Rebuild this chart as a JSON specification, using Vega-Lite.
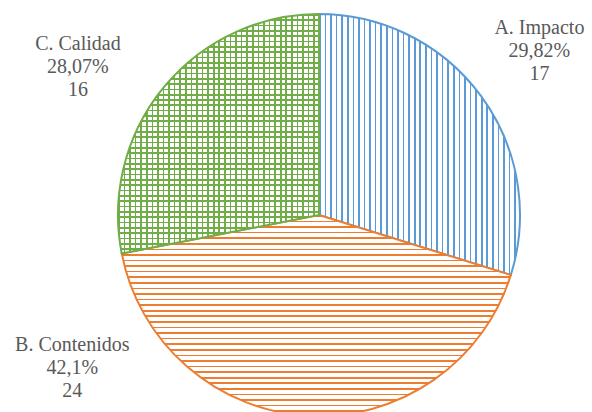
{
"$schema": "https://vega.github.io/schema/vega-lite/v6.json",
"width": 546, "height": 394,
"autosize": {"type": "none"},
"padding": {"left": 46, "top": 18, "right": 0, "bottom": 0},
"background": "white",
"config": {"view": {"stroke": null}},
"data": {"values": [
 {"k": "A. Impacto", "n": 17, "pct": "29,82%"},
 {"k": "B. Contenidos", "n": 24, "pct": "42,1%"},
 {"k": "C. Calidad", "n": 16, "pct": "28,07%"}
]},
"transform": [
 {"stack": "n", "groupby": [], "sort": [{"field": "k", "order": "ascending"}], "as": ["s0", "s1"]},
 {"calculate": "(datum.s0 + datum.s1) / 2", "as": "mid"},
 {"calculate": "[datum.k, datum.pct, '' + datum.n]", "as": "label"}
],
"layer": [
 {"transform": [{"filter": "datum.k === 'A. Impacto'"}],
  "mark": {"type": "arc", "radius": 201, "stroke": "#5b9bd5", "strokeWidth": 2,
   "fill": {"gradient": "linear", "x1": 0, "y1": 0, "x2": 1, "y2": 0, "stops": [
{"offset":0,"color":"#5b9bd5"},{"offset":0.008,"color":"#5b9bd5"},{"offset":0.008,"color":"#fff"},{"offset":0.0278,"color":"#fff"},
{"offset":0.0278,"color":"#5b9bd5"},{"offset":0.0358,"color":"#5b9bd5"},{"offset":0.0358,"color":"#fff"},{"offset":0.0556,"color":"#fff"},
{"offset":0.0556,"color":"#5b9bd5"},{"offset":0.0636,"color":"#5b9bd5"},{"offset":0.0636,"color":"#fff"},{"offset":0.0833,"color":"#fff"},
{"offset":0.0833,"color":"#5b9bd5"},{"offset":0.0913,"color":"#5b9bd5"},{"offset":0.0913,"color":"#fff"},{"offset":0.1111,"color":"#fff"},
{"offset":0.1111,"color":"#5b9bd5"},{"offset":0.1191,"color":"#5b9bd5"},{"offset":0.1191,"color":"#fff"},{"offset":0.1389,"color":"#fff"},
{"offset":0.1389,"color":"#5b9bd5"},{"offset":0.1469,"color":"#5b9bd5"},{"offset":0.1469,"color":"#fff"},{"offset":0.1667,"color":"#fff"},
{"offset":0.1667,"color":"#5b9bd5"},{"offset":0.1747,"color":"#5b9bd5"},{"offset":0.1747,"color":"#fff"},{"offset":0.1944,"color":"#fff"},
{"offset":0.1944,"color":"#5b9bd5"},{"offset":0.2024,"color":"#5b9bd5"},{"offset":0.2024,"color":"#fff"},{"offset":0.2222,"color":"#fff"},
{"offset":0.2222,"color":"#5b9bd5"},{"offset":0.2302,"color":"#5b9bd5"},{"offset":0.2302,"color":"#fff"},{"offset":0.25,"color":"#fff"},
{"offset":0.25,"color":"#5b9bd5"},{"offset":0.258,"color":"#5b9bd5"},{"offset":0.258,"color":"#fff"},{"offset":0.2778,"color":"#fff"},
{"offset":0.2778,"color":"#5b9bd5"},{"offset":0.2858,"color":"#5b9bd5"},{"offset":0.2858,"color":"#fff"},{"offset":0.3056,"color":"#fff"},
{"offset":0.3056,"color":"#5b9bd5"},{"offset":0.3136,"color":"#5b9bd5"},{"offset":0.3136,"color":"#fff"},{"offset":0.3333,"color":"#fff"},
{"offset":0.3333,"color":"#5b9bd5"},{"offset":0.3413,"color":"#5b9bd5"},{"offset":0.3413,"color":"#fff"},{"offset":0.3611,"color":"#fff"},
{"offset":0.3611,"color":"#5b9bd5"},{"offset":0.3691,"color":"#5b9bd5"},{"offset":0.3691,"color":"#fff"},{"offset":0.3889,"color":"#fff"},
{"offset":0.3889,"color":"#5b9bd5"},{"offset":0.3969,"color":"#5b9bd5"},{"offset":0.3969,"color":"#fff"},{"offset":0.4167,"color":"#fff"},
{"offset":0.4167,"color":"#5b9bd5"},{"offset":0.4247,"color":"#5b9bd5"},{"offset":0.4247,"color":"#fff"},{"offset":0.4444,"color":"#fff"},
{"offset":0.4444,"color":"#5b9bd5"},{"offset":0.4524,"color":"#5b9bd5"},{"offset":0.4524,"color":"#fff"},{"offset":0.4722,"color":"#fff"},
{"offset":0.4722,"color":"#5b9bd5"},{"offset":0.4802,"color":"#5b9bd5"},{"offset":0.4802,"color":"#fff"},{"offset":0.5,"color":"#fff"},
{"offset":0.5,"color":"#5b9bd5"},{"offset":0.508,"color":"#5b9bd5"},{"offset":0.508,"color":"#fff"},{"offset":0.5278,"color":"#fff"},
{"offset":0.5278,"color":"#5b9bd5"},{"offset":0.5358,"color":"#5b9bd5"},{"offset":0.5358,"color":"#fff"},{"offset":0.5556,"color":"#fff"},
{"offset":0.5556,"color":"#5b9bd5"},{"offset":0.5636,"color":"#5b9bd5"},{"offset":0.5636,"color":"#fff"},{"offset":0.5833,"color":"#fff"},
{"offset":0.5833,"color":"#5b9bd5"},{"offset":0.5913,"color":"#5b9bd5"},{"offset":0.5913,"color":"#fff"},{"offset":0.6111,"color":"#fff"},
{"offset":0.6111,"color":"#5b9bd5"},{"offset":0.6191,"color":"#5b9bd5"},{"offset":0.6191,"color":"#fff"},{"offset":0.6389,"color":"#fff"},
{"offset":0.6389,"color":"#5b9bd5"},{"offset":0.6469,"color":"#5b9bd5"},{"offset":0.6469,"color":"#fff"},{"offset":0.6667,"color":"#fff"},
{"offset":0.6667,"color":"#5b9bd5"},{"offset":0.6747,"color":"#5b9bd5"},{"offset":0.6747,"color":"#fff"},{"offset":0.6944,"color":"#fff"},
{"offset":0.6944,"color":"#5b9bd5"},{"offset":0.7024,"color":"#5b9bd5"},{"offset":0.7024,"color":"#fff"},{"offset":0.7222,"color":"#fff"},
{"offset":0.7222,"color":"#5b9bd5"},{"offset":0.7302,"color":"#5b9bd5"},{"offset":0.7302,"color":"#fff"},{"offset":0.75,"color":"#fff"},
{"offset":0.75,"color":"#5b9bd5"},{"offset":0.758,"color":"#5b9bd5"},{"offset":0.758,"color":"#fff"},{"offset":0.7778,"color":"#fff"},
{"offset":0.7778,"color":"#5b9bd5"},{"offset":0.7858,"color":"#5b9bd5"},{"offset":0.7858,"color":"#fff"},{"offset":0.8056,"color":"#fff"},
{"offset":0.8056,"color":"#5b9bd5"},{"offset":0.8136,"color":"#5b9bd5"},{"offset":0.8136,"color":"#fff"},{"offset":0.8333,"color":"#fff"},
{"offset":0.8333,"color":"#5b9bd5"},{"offset":0.8413,"color":"#5b9bd5"},{"offset":0.8413,"color":"#fff"},{"offset":0.8611,"color":"#fff"},
{"offset":0.8611,"color":"#5b9bd5"},{"offset":0.8691,"color":"#5b9bd5"},{"offset":0.8691,"color":"#fff"},{"offset":0.8889,"color":"#fff"},
{"offset":0.8889,"color":"#5b9bd5"},{"offset":0.8969,"color":"#5b9bd5"},{"offset":0.8969,"color":"#fff"},{"offset":0.9167,"color":"#fff"},
{"offset":0.9167,"color":"#5b9bd5"},{"offset":0.9247,"color":"#5b9bd5"},{"offset":0.9247,"color":"#fff"},{"offset":0.9444,"color":"#fff"},
{"offset":0.9444,"color":"#5b9bd5"},{"offset":0.9524,"color":"#5b9bd5"},{"offset":0.9524,"color":"#fff"},{"offset":0.9722,"color":"#fff"},
{"offset":0.9722,"color":"#5b9bd5"},{"offset":0.9802,"color":"#5b9bd5"},{"offset":0.9802,"color":"#fff"},{"offset":1,"color":"#fff"}
   ]}},
  "encoding": {"theta": {"field": "s0", "type": "quantitative", "stack": null, "scale": {"domain": [0, 57]}}, "theta2": {"field": "s1"}}},
 {"transform": [{"filter": "datum.k === 'B. Contenidos'"}],
  "mark": {"type": "arc", "radius": 201, "stroke": "#ed7d31", "strokeWidth": 2,
   "fill": {"gradient": "linear", "x1": 0, "y1": 0, "x2": 0, "y2": 1, "stops": [
{"offset":0,"color":"#ed7d31"},{"offset":0.008,"color":"#ed7d31"},{"offset":0.008,"color":"#fff"},{"offset":0.0278,"color":"#fff"},
{"offset":0.0278,"color":"#ed7d31"},{"offset":0.0358,"color":"#ed7d31"},{"offset":0.0358,"color":"#fff"},{"offset":0.0556,"color":"#fff"},
{"offset":0.0556,"color":"#ed7d31"},{"offset":0.0636,"color":"#ed7d31"},{"offset":0.0636,"color":"#fff"},{"offset":0.0833,"color":"#fff"},
{"offset":0.0833,"color":"#ed7d31"},{"offset":0.0913,"color":"#ed7d31"},{"offset":0.0913,"color":"#fff"},{"offset":0.1111,"color":"#fff"},
{"offset":0.1111,"color":"#ed7d31"},{"offset":0.1191,"color":"#ed7d31"},{"offset":0.1191,"color":"#fff"},{"offset":0.1389,"color":"#fff"},
{"offset":0.1389,"color":"#ed7d31"},{"offset":0.1469,"color":"#ed7d31"},{"offset":0.1469,"color":"#fff"},{"offset":0.1667,"color":"#fff"},
{"offset":0.1667,"color":"#ed7d31"},{"offset":0.1747,"color":"#ed7d31"},{"offset":0.1747,"color":"#fff"},{"offset":0.1944,"color":"#fff"},
{"offset":0.1944,"color":"#ed7d31"},{"offset":0.2024,"color":"#ed7d31"},{"offset":0.2024,"color":"#fff"},{"offset":0.2222,"color":"#fff"},
{"offset":0.2222,"color":"#ed7d31"},{"offset":0.2302,"color":"#ed7d31"},{"offset":0.2302,"color":"#fff"},{"offset":0.25,"color":"#fff"},
{"offset":0.25,"color":"#ed7d31"},{"offset":0.258,"color":"#ed7d31"},{"offset":0.258,"color":"#fff"},{"offset":0.2778,"color":"#fff"},
{"offset":0.2778,"color":"#ed7d31"},{"offset":0.2858,"color":"#ed7d31"},{"offset":0.2858,"color":"#fff"},{"offset":0.3056,"color":"#fff"},
{"offset":0.3056,"color":"#ed7d31"},{"offset":0.3136,"color":"#ed7d31"},{"offset":0.3136,"color":"#fff"},{"offset":0.3333,"color":"#fff"},
{"offset":0.3333,"color":"#ed7d31"},{"offset":0.3413,"color":"#ed7d31"},{"offset":0.3413,"color":"#fff"},{"offset":0.3611,"color":"#fff"},
{"offset":0.3611,"color":"#ed7d31"},{"offset":0.3691,"color":"#ed7d31"},{"offset":0.3691,"color":"#fff"},{"offset":0.3889,"color":"#fff"},
{"offset":0.3889,"color":"#ed7d31"},{"offset":0.3969,"color":"#ed7d31"},{"offset":0.3969,"color":"#fff"},{"offset":0.4167,"color":"#fff"},
{"offset":0.4167,"color":"#ed7d31"},{"offset":0.4247,"color":"#ed7d31"},{"offset":0.4247,"color":"#fff"},{"offset":0.4444,"color":"#fff"},
{"offset":0.4444,"color":"#ed7d31"},{"offset":0.4524,"color":"#ed7d31"},{"offset":0.4524,"color":"#fff"},{"offset":0.4722,"color":"#fff"},
{"offset":0.4722,"color":"#ed7d31"},{"offset":0.4802,"color":"#ed7d31"},{"offset":0.4802,"color":"#fff"},{"offset":0.5,"color":"#fff"},
{"offset":0.5,"color":"#ed7d31"},{"offset":0.508,"color":"#ed7d31"},{"offset":0.508,"color":"#fff"},{"offset":0.5278,"color":"#fff"},
{"offset":0.5278,"color":"#ed7d31"},{"offset":0.5358,"color":"#ed7d31"},{"offset":0.5358,"color":"#fff"},{"offset":0.5556,"color":"#fff"},
{"offset":0.5556,"color":"#ed7d31"},{"offset":0.5636,"color":"#ed7d31"},{"offset":0.5636,"color":"#fff"},{"offset":0.5833,"color":"#fff"},
{"offset":0.5833,"color":"#ed7d31"},{"offset":0.5913,"color":"#ed7d31"},{"offset":0.5913,"color":"#fff"},{"offset":0.6111,"color":"#fff"},
{"offset":0.6111,"color":"#ed7d31"},{"offset":0.6191,"color":"#ed7d31"},{"offset":0.6191,"color":"#fff"},{"offset":0.6389,"color":"#fff"},
{"offset":0.6389,"color":"#ed7d31"},{"offset":0.6469,"color":"#ed7d31"},{"offset":0.6469,"color":"#fff"},{"offset":0.6667,"color":"#fff"},
{"offset":0.6667,"color":"#ed7d31"},{"offset":0.6747,"color":"#ed7d31"},{"offset":0.6747,"color":"#fff"},{"offset":0.6944,"color":"#fff"},
{"offset":0.6944,"color":"#ed7d31"},{"offset":0.7024,"color":"#ed7d31"},{"offset":0.7024,"color":"#fff"},{"offset":0.7222,"color":"#fff"},
{"offset":0.7222,"color":"#ed7d31"},{"offset":0.7302,"color":"#ed7d31"},{"offset":0.7302,"color":"#fff"},{"offset":0.75,"color":"#fff"},
{"offset":0.75,"color":"#ed7d31"},{"offset":0.758,"color":"#ed7d31"},{"offset":0.758,"color":"#fff"},{"offset":0.7778,"color":"#fff"},
{"offset":0.7778,"color":"#ed7d31"},{"offset":0.7858,"color":"#ed7d31"},{"offset":0.7858,"color":"#fff"},{"offset":0.8056,"color":"#fff"},
{"offset":0.8056,"color":"#ed7d31"},{"offset":0.8136,"color":"#ed7d31"},{"offset":0.8136,"color":"#fff"},{"offset":0.8333,"color":"#fff"},
{"offset":0.8333,"color":"#ed7d31"},{"offset":0.8413,"color":"#ed7d31"},{"offset":0.8413,"color":"#fff"},{"offset":0.8611,"color":"#fff"},
{"offset":0.8611,"color":"#ed7d31"},{"offset":0.8691,"color":"#ed7d31"},{"offset":0.8691,"color":"#fff"},{"offset":0.8889,"color":"#fff"},
{"offset":0.8889,"color":"#ed7d31"},{"offset":0.8969,"color":"#ed7d31"},{"offset":0.8969,"color":"#fff"},{"offset":0.9167,"color":"#fff"},
{"offset":0.9167,"color":"#ed7d31"},{"offset":0.9247,"color":"#ed7d31"},{"offset":0.9247,"color":"#fff"},{"offset":0.9444,"color":"#fff"},
{"offset":0.9444,"color":"#ed7d31"},{"offset":0.9524,"color":"#ed7d31"},{"offset":0.9524,"color":"#fff"},{"offset":0.9722,"color":"#fff"},
{"offset":0.9722,"color":"#ed7d31"},{"offset":0.9802,"color":"#ed7d31"},{"offset":0.9802,"color":"#fff"},{"offset":1,"color":"#fff"}
   ]}},
  "encoding": {"theta": {"field": "s0", "type": "quantitative", "stack": null}, "theta2": {"field": "s1"}}},
 {"transform": [{"filter": "datum.k === 'C. Calidad'"}],
  "mark": {"type": "arc", "radius": 201,
   "fill": {"gradient": "linear", "x1": 0, "y1": 0, "x2": 1, "y2": 0, "stops": [
{"offset":0,"color":"#70ad47"},{"offset":0.008,"color":"#70ad47"},{"offset":0.008,"color":"#fff"},{"offset":0.0278,"color":"#fff"},
{"offset":0.0278,"color":"#70ad47"},{"offset":0.0358,"color":"#70ad47"},{"offset":0.0358,"color":"#fff"},{"offset":0.0556,"color":"#fff"},
{"offset":0.0556,"color":"#70ad47"},{"offset":0.0636,"color":"#70ad47"},{"offset":0.0636,"color":"#fff"},{"offset":0.0833,"color":"#fff"},
{"offset":0.0833,"color":"#70ad47"},{"offset":0.0913,"color":"#70ad47"},{"offset":0.0913,"color":"#fff"},{"offset":0.1111,"color":"#fff"},
{"offset":0.1111,"color":"#70ad47"},{"offset":0.1191,"color":"#70ad47"},{"offset":0.1191,"color":"#fff"},{"offset":0.1389,"color":"#fff"},
{"offset":0.1389,"color":"#70ad47"},{"offset":0.1469,"color":"#70ad47"},{"offset":0.1469,"color":"#fff"},{"offset":0.1667,"color":"#fff"},
{"offset":0.1667,"color":"#70ad47"},{"offset":0.1747,"color":"#70ad47"},{"offset":0.1747,"color":"#fff"},{"offset":0.1944,"color":"#fff"},
{"offset":0.1944,"color":"#70ad47"},{"offset":0.2024,"color":"#70ad47"},{"offset":0.2024,"color":"#fff"},{"offset":0.2222,"color":"#fff"},
{"offset":0.2222,"color":"#70ad47"},{"offset":0.2302,"color":"#70ad47"},{"offset":0.2302,"color":"#fff"},{"offset":0.25,"color":"#fff"},
{"offset":0.25,"color":"#70ad47"},{"offset":0.258,"color":"#70ad47"},{"offset":0.258,"color":"#fff"},{"offset":0.2778,"color":"#fff"},
{"offset":0.2778,"color":"#70ad47"},{"offset":0.2858,"color":"#70ad47"},{"offset":0.2858,"color":"#fff"},{"offset":0.3056,"color":"#fff"},
{"offset":0.3056,"color":"#70ad47"},{"offset":0.3136,"color":"#70ad47"},{"offset":0.3136,"color":"#fff"},{"offset":0.3333,"color":"#fff"},
{"offset":0.3333,"color":"#70ad47"},{"offset":0.3413,"color":"#70ad47"},{"offset":0.3413,"color":"#fff"},{"offset":0.3611,"color":"#fff"},
{"offset":0.3611,"color":"#70ad47"},{"offset":0.3691,"color":"#70ad47"},{"offset":0.3691,"color":"#fff"},{"offset":0.3889,"color":"#fff"},
{"offset":0.3889,"color":"#70ad47"},{"offset":0.3969,"color":"#70ad47"},{"offset":0.3969,"color":"#fff"},{"offset":0.4167,"color":"#fff"},
{"offset":0.4167,"color":"#70ad47"},{"offset":0.4247,"color":"#70ad47"},{"offset":0.4247,"color":"#fff"},{"offset":0.4444,"color":"#fff"},
{"offset":0.4444,"color":"#70ad47"},{"offset":0.4524,"color":"#70ad47"},{"offset":0.4524,"color":"#fff"},{"offset":0.4722,"color":"#fff"},
{"offset":0.4722,"color":"#70ad47"},{"offset":0.4802,"color":"#70ad47"},{"offset":0.4802,"color":"#fff"},{"offset":0.5,"color":"#fff"},
{"offset":0.5,"color":"#70ad47"},{"offset":0.508,"color":"#70ad47"},{"offset":0.508,"color":"#fff"},{"offset":0.5278,"color":"#fff"},
{"offset":0.5278,"color":"#70ad47"},{"offset":0.5358,"color":"#70ad47"},{"offset":0.5358,"color":"#fff"},{"offset":0.5556,"color":"#fff"},
{"offset":0.5556,"color":"#70ad47"},{"offset":0.5636,"color":"#70ad47"},{"offset":0.5636,"color":"#fff"},{"offset":0.5833,"color":"#fff"},
{"offset":0.5833,"color":"#70ad47"},{"offset":0.5913,"color":"#70ad47"},{"offset":0.5913,"color":"#fff"},{"offset":0.6111,"color":"#fff"},
{"offset":0.6111,"color":"#70ad47"},{"offset":0.6191,"color":"#70ad47"},{"offset":0.6191,"color":"#fff"},{"offset":0.6389,"color":"#fff"},
{"offset":0.6389,"color":"#70ad47"},{"offset":0.6469,"color":"#70ad47"},{"offset":0.6469,"color":"#fff"},{"offset":0.6667,"color":"#fff"},
{"offset":0.6667,"color":"#70ad47"},{"offset":0.6747,"color":"#70ad47"},{"offset":0.6747,"color":"#fff"},{"offset":0.6944,"color":"#fff"},
{"offset":0.6944,"color":"#70ad47"},{"offset":0.7024,"color":"#70ad47"},{"offset":0.7024,"color":"#fff"},{"offset":0.7222,"color":"#fff"},
{"offset":0.7222,"color":"#70ad47"},{"offset":0.7302,"color":"#70ad47"},{"offset":0.7302,"color":"#fff"},{"offset":0.75,"color":"#fff"},
{"offset":0.75,"color":"#70ad47"},{"offset":0.758,"color":"#70ad47"},{"offset":0.758,"color":"#fff"},{"offset":0.7778,"color":"#fff"},
{"offset":0.7778,"color":"#70ad47"},{"offset":0.7858,"color":"#70ad47"},{"offset":0.7858,"color":"#fff"},{"offset":0.8056,"color":"#fff"},
{"offset":0.8056,"color":"#70ad47"},{"offset":0.8136,"color":"#70ad47"},{"offset":0.8136,"color":"#fff"},{"offset":0.8333,"color":"#fff"},
{"offset":0.8333,"color":"#70ad47"},{"offset":0.8413,"color":"#70ad47"},{"offset":0.8413,"color":"#fff"},{"offset":0.8611,"color":"#fff"},
{"offset":0.8611,"color":"#70ad47"},{"offset":0.8691,"color":"#70ad47"},{"offset":0.8691,"color":"#fff"},{"offset":0.8889,"color":"#fff"},
{"offset":0.8889,"color":"#70ad47"},{"offset":0.8969,"color":"#70ad47"},{"offset":0.8969,"color":"#fff"},{"offset":0.9167,"color":"#fff"},
{"offset":0.9167,"color":"#70ad47"},{"offset":0.9247,"color":"#70ad47"},{"offset":0.9247,"color":"#fff"},{"offset":0.9444,"color":"#fff"},
{"offset":0.9444,"color":"#70ad47"},{"offset":0.9524,"color":"#70ad47"},{"offset":0.9524,"color":"#fff"},{"offset":0.9722,"color":"#fff"},
{"offset":0.9722,"color":"#70ad47"},{"offset":0.9802,"color":"#70ad47"},{"offset":0.9802,"color":"#fff"},{"offset":1,"color":"#fff"}
   ]}},
  "encoding": {"theta": {"field": "s0", "type": "quantitative", "stack": null}, "theta2": {"field": "s1"}}},
 {"transform": [{"filter": "datum.k === 'C. Calidad'"}],
  "mark": {"type": "arc", "radius": 201, "stroke": "#70ad47", "strokeWidth": 2,
   "fill": {"gradient": "linear", "x1": 0, "y1": 0, "x2": 0, "y2": 1, "stops": [
{"offset":0,"color":"#70ad47"},{"offset":0.007,"color":"#70ad47"},{"offset":0.007,"color":"rgba(112,173,71,0)"},{"offset":0.0222,"color":"rgba(112,173,71,0)"},
{"offset":0.0222,"color":"#70ad47"},{"offset":0.0292,"color":"#70ad47"},{"offset":0.0292,"color":"rgba(112,173,71,0)"},{"offset":0.0444,"color":"rgba(112,173,71,0)"},
{"offset":0.0444,"color":"#70ad47"},{"offset":0.0514,"color":"#70ad47"},{"offset":0.0514,"color":"rgba(112,173,71,0)"},{"offset":0.0667,"color":"rgba(112,173,71,0)"},
{"offset":0.0667,"color":"#70ad47"},{"offset":0.0737,"color":"#70ad47"},{"offset":0.0737,"color":"rgba(112,173,71,0)"},{"offset":0.0889,"color":"rgba(112,173,71,0)"},
{"offset":0.0889,"color":"#70ad47"},{"offset":0.0959,"color":"#70ad47"},{"offset":0.0959,"color":"rgba(112,173,71,0)"},{"offset":0.1111,"color":"rgba(112,173,71,0)"},
{"offset":0.1111,"color":"#70ad47"},{"offset":0.1181,"color":"#70ad47"},{"offset":0.1181,"color":"rgba(112,173,71,0)"},{"offset":0.1333,"color":"rgba(112,173,71,0)"},
{"offset":0.1333,"color":"#70ad47"},{"offset":0.1403,"color":"#70ad47"},{"offset":0.1403,"color":"rgba(112,173,71,0)"},{"offset":0.1556,"color":"rgba(112,173,71,0)"},
{"offset":0.1556,"color":"#70ad47"},{"offset":0.1626,"color":"#70ad47"},{"offset":0.1626,"color":"rgba(112,173,71,0)"},{"offset":0.1778,"color":"rgba(112,173,71,0)"},
{"offset":0.1778,"color":"#70ad47"},{"offset":0.1848,"color":"#70ad47"},{"offset":0.1848,"color":"rgba(112,173,71,0)"},{"offset":0.2,"color":"rgba(112,173,71,0)"},
{"offset":0.2,"color":"#70ad47"},{"offset":0.207,"color":"#70ad47"},{"offset":0.207,"color":"rgba(112,173,71,0)"},{"offset":0.2222,"color":"rgba(112,173,71,0)"},
{"offset":0.2222,"color":"#70ad47"},{"offset":0.2292,"color":"#70ad47"},{"offset":0.2292,"color":"rgba(112,173,71,0)"},{"offset":0.2444,"color":"rgba(112,173,71,0)"},
{"offset":0.2444,"color":"#70ad47"},{"offset":0.2514,"color":"#70ad47"},{"offset":0.2514,"color":"rgba(112,173,71,0)"},{"offset":0.2667,"color":"rgba(112,173,71,0)"},
{"offset":0.2667,"color":"#70ad47"},{"offset":0.2737,"color":"#70ad47"},{"offset":0.2737,"color":"rgba(112,173,71,0)"},{"offset":0.2889,"color":"rgba(112,173,71,0)"},
{"offset":0.2889,"color":"#70ad47"},{"offset":0.2959,"color":"#70ad47"},{"offset":0.2959,"color":"rgba(112,173,71,0)"},{"offset":0.3111,"color":"rgba(112,173,71,0)"},
{"offset":0.3111,"color":"#70ad47"},{"offset":0.3181,"color":"#70ad47"},{"offset":0.3181,"color":"rgba(112,173,71,0)"},{"offset":0.3333,"color":"rgba(112,173,71,0)"},
{"offset":0.3333,"color":"#70ad47"},{"offset":0.3403,"color":"#70ad47"},{"offset":0.3403,"color":"rgba(112,173,71,0)"},{"offset":0.3556,"color":"rgba(112,173,71,0)"},
{"offset":0.3556,"color":"#70ad47"},{"offset":0.3626,"color":"#70ad47"},{"offset":0.3626,"color":"rgba(112,173,71,0)"},{"offset":0.3778,"color":"rgba(112,173,71,0)"},
{"offset":0.3778,"color":"#70ad47"},{"offset":0.3848,"color":"#70ad47"},{"offset":0.3848,"color":"rgba(112,173,71,0)"},{"offset":0.4,"color":"rgba(112,173,71,0)"},
{"offset":0.4,"color":"#70ad47"},{"offset":0.407,"color":"#70ad47"},{"offset":0.407,"color":"rgba(112,173,71,0)"},{"offset":0.4222,"color":"rgba(112,173,71,0)"},
{"offset":0.4222,"color":"#70ad47"},{"offset":0.4292,"color":"#70ad47"},{"offset":0.4292,"color":"rgba(112,173,71,0)"},{"offset":0.4444,"color":"rgba(112,173,71,0)"},
{"offset":0.4444,"color":"#70ad47"},{"offset":0.4514,"color":"#70ad47"},{"offset":0.4514,"color":"rgba(112,173,71,0)"},{"offset":0.4667,"color":"rgba(112,173,71,0)"},
{"offset":0.4667,"color":"#70ad47"},{"offset":0.4737,"color":"#70ad47"},{"offset":0.4737,"color":"rgba(112,173,71,0)"},{"offset":0.4889,"color":"rgba(112,173,71,0)"},
{"offset":0.4889,"color":"#70ad47"},{"offset":0.4959,"color":"#70ad47"},{"offset":0.4959,"color":"rgba(112,173,71,0)"},{"offset":0.5111,"color":"rgba(112,173,71,0)"},
{"offset":0.5111,"color":"#70ad47"},{"offset":0.5181,"color":"#70ad47"},{"offset":0.5181,"color":"rgba(112,173,71,0)"},{"offset":0.5333,"color":"rgba(112,173,71,0)"},
{"offset":0.5333,"color":"#70ad47"},{"offset":0.5403,"color":"#70ad47"},{"offset":0.5403,"color":"rgba(112,173,71,0)"},{"offset":0.5556,"color":"rgba(112,173,71,0)"},
{"offset":0.5556,"color":"#70ad47"},{"offset":0.5626,"color":"#70ad47"},{"offset":0.5626,"color":"rgba(112,173,71,0)"},{"offset":0.5778,"color":"rgba(112,173,71,0)"},
{"offset":0.5778,"color":"#70ad47"},{"offset":0.5848,"color":"#70ad47"},{"offset":0.5848,"color":"rgba(112,173,71,0)"},{"offset":0.6,"color":"rgba(112,173,71,0)"},
{"offset":0.6,"color":"#70ad47"},{"offset":0.607,"color":"#70ad47"},{"offset":0.607,"color":"rgba(112,173,71,0)"},{"offset":0.6222,"color":"rgba(112,173,71,0)"},
{"offset":0.6222,"color":"#70ad47"},{"offset":0.6292,"color":"#70ad47"},{"offset":0.6292,"color":"rgba(112,173,71,0)"},{"offset":0.6444,"color":"rgba(112,173,71,0)"},
{"offset":0.6444,"color":"#70ad47"},{"offset":0.6514,"color":"#70ad47"},{"offset":0.6514,"color":"rgba(112,173,71,0)"},{"offset":0.6667,"color":"rgba(112,173,71,0)"},
{"offset":0.6667,"color":"#70ad47"},{"offset":0.6737,"color":"#70ad47"},{"offset":0.6737,"color":"rgba(112,173,71,0)"},{"offset":0.6889,"color":"rgba(112,173,71,0)"},
{"offset":0.6889,"color":"#70ad47"},{"offset":0.6959,"color":"#70ad47"},{"offset":0.6959,"color":"rgba(112,173,71,0)"},{"offset":0.7111,"color":"rgba(112,173,71,0)"},
{"offset":0.7111,"color":"#70ad47"},{"offset":0.7181,"color":"#70ad47"},{"offset":0.7181,"color":"rgba(112,173,71,0)"},{"offset":0.7333,"color":"rgba(112,173,71,0)"},
{"offset":0.7333,"color":"#70ad47"},{"offset":0.7403,"color":"#70ad47"},{"offset":0.7403,"color":"rgba(112,173,71,0)"},{"offset":0.7556,"color":"rgba(112,173,71,0)"},
{"offset":0.7556,"color":"#70ad47"},{"offset":0.7626,"color":"#70ad47"},{"offset":0.7626,"color":"rgba(112,173,71,0)"},{"offset":0.7778,"color":"rgba(112,173,71,0)"},
{"offset":0.7778,"color":"#70ad47"},{"offset":0.7848,"color":"#70ad47"},{"offset":0.7848,"color":"rgba(112,173,71,0)"},{"offset":0.8,"color":"rgba(112,173,71,0)"},
{"offset":0.8,"color":"#70ad47"},{"offset":0.807,"color":"#70ad47"},{"offset":0.807,"color":"rgba(112,173,71,0)"},{"offset":0.8222,"color":"rgba(112,173,71,0)"},
{"offset":0.8222,"color":"#70ad47"},{"offset":0.8292,"color":"#70ad47"},{"offset":0.8292,"color":"rgba(112,173,71,0)"},{"offset":0.8444,"color":"rgba(112,173,71,0)"},
{"offset":0.8444,"color":"#70ad47"},{"offset":0.8514,"color":"#70ad47"},{"offset":0.8514,"color":"rgba(112,173,71,0)"},{"offset":0.8667,"color":"rgba(112,173,71,0)"},
{"offset":0.8667,"color":"#70ad47"},{"offset":0.8737,"color":"#70ad47"},{"offset":0.8737,"color":"rgba(112,173,71,0)"},{"offset":0.8889,"color":"rgba(112,173,71,0)"},
{"offset":0.8889,"color":"#70ad47"},{"offset":0.8959,"color":"#70ad47"},{"offset":0.8959,"color":"rgba(112,173,71,0)"},{"offset":0.9111,"color":"rgba(112,173,71,0)"},
{"offset":0.9111,"color":"#70ad47"},{"offset":0.9181,"color":"#70ad47"},{"offset":0.9181,"color":"rgba(112,173,71,0)"},{"offset":0.9333,"color":"rgba(112,173,71,0)"},
{"offset":0.9333,"color":"#70ad47"},{"offset":0.9403,"color":"#70ad47"},{"offset":0.9403,"color":"rgba(112,173,71,0)"},{"offset":0.9556,"color":"rgba(112,173,71,0)"},
{"offset":0.9556,"color":"#70ad47"},{"offset":0.9626,"color":"#70ad47"},{"offset":0.9626,"color":"rgba(112,173,71,0)"},{"offset":0.9778,"color":"rgba(112,173,71,0)"},
{"offset":0.9778,"color":"#70ad47"},{"offset":0.9848,"color":"#70ad47"},{"offset":0.9848,"color":"rgba(112,173,71,0)"},{"offset":1,"color":"rgba(112,173,71,0)"}
   ]}},
  "encoding": {"theta": {"field": "s0", "type": "quantitative", "stack": null}, "theta2": {"field": "s1"}}},
 {"transform": [{"filter": "datum.k === 'A. Impacto'"}],
  "mark": {"type": "text", "radius": 276, "dx": -2, "dy": -24, "align": "center", "baseline": "middle", "font": "Liberation Serif, Times New Roman, serif", "fontSize": 20, "lineHeight": 23, "fill": "#595959"},
  "encoding": {"theta": {"field": "mid", "type": "quantitative", "stack": null}, "text": {"field": "label", "type": "nominal"}}},
 {"transform": [{"filter": "datum.k === 'B. Contenidos'"}],
  "mark": {"type": "text", "radius": 230, "dx": -234, "dy": -100, "align": "center", "baseline": "middle", "font": "Liberation Serif, Times New Roman, serif", "fontSize": 20, "lineHeight": 23, "fill": "#595959"},
  "encoding": {"theta": {"field": "mid", "type": "quantitative", "stack": null}, "text": {"field": "label", "type": "nominal"}}},
 {"transform": [{"filter": "datum.k === 'C. Calidad'"}],
  "mark": {"type": "text", "radius": 276, "dx": -28, "dy": 4, "align": "center", "baseline": "middle", "font": "Liberation Serif, Times New Roman, serif", "fontSize": 20, "lineHeight": 23, "fill": "#595959"},
  "encoding": {"theta": {"field": "mid", "type": "quantitative", "stack": null}, "text": {"field": "label", "type": "nominal"}}}
]
}
